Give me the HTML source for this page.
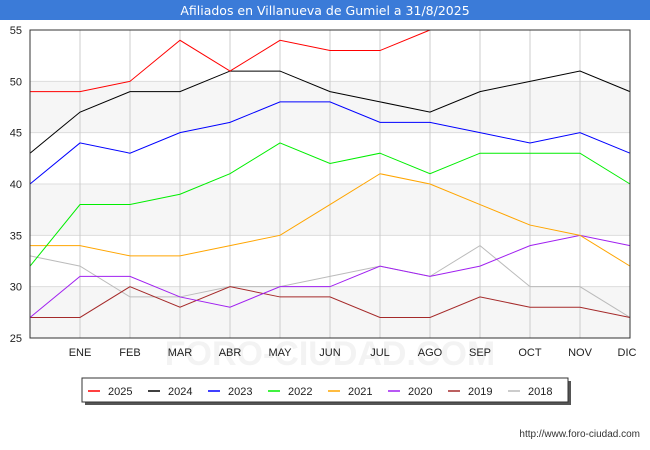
<!DOCTYPE html>
<html><head><meta charset="utf-8"><style>
body{margin:0;background:#fff;font-family:"Liberation Sans",sans-serif;}
#wrap{position:relative;width:650px;height:450px;overflow:hidden;}
</style></head><body>
<div id="wrap">
<svg id="chart" width="650" height="450" xmlns="http://www.w3.org/2000/svg">
<rect x="0" y="0" width="650" height="20" fill="#3b7bd8"/>
<text x="325" y="15" text-anchor="middle" fill="#fff" font-size="12.5" font-family="DejaVu Sans, sans-serif">Afiliados en Villanueva de Gumiel a 31/8/2025</text>
<g id="bands"></g><g id="grid"></g>
<text x="330" y="365" text-anchor="middle" fill="#f3f3f3" font-size="34" font-weight="bold" font-family="Liberation Sans, sans-serif">FORO-CIUDAD.COM</text>
<g id="series"></g><g id="axes"></g>
<rect x="85" y="381" width="486" height="24" fill="#555"/>
<rect x="82" y="378" width="486" height="24" fill="#fff" stroke="#333"/>
<g id="legend"></g>
<text x="640" y="437" text-anchor="end" font-size="10" fill="#333" font-family="Liberation Sans, sans-serif">http://www.foro-ciudad.com</text>
</svg></div>
<script>
const months=["","ENE","FEB","MAR","ABR","MAY","JUN","JUL","AGO","SEP","OCT","NOV","DIC"];
const yTicks=[25,30,35,40,45,50,55];
const years=["2025","2024","2023","2022","2021","2020","2019","2018"];
const colors=["#ff0000","#000000","#0000ff","#00ee00","#ffa500","#a020f0","#a52a2a","#bbbbbb"];
const s2025=[49,49,50,54,51,54,53,53,55];
const s2024=[43,47,49,49,51,51,49,48,47,49,50,51,49];
const s2023=[40,44,43,45,46,48,48,46,46,45,44,45,43];
const s2022=[32,38,38,39,41,44,42,43,41,43,43,43,40];
const s2021=[34,34,33,33,34,35,38,41,40,38,36,35,32];
const s2020=[27,31,31,29,28,30,30,32,31,32,34,35,34];
const s2019=[27,27,30,28,30,29,29,27,27,29,28,28,27];
const s2018=[33,32,29,29,30,30,31,32,31,34,30,30,27];
const allSeries=[s2025,s2024,s2023,s2022,s2021,s2020,s2019,s2018];
const NS="http://www.w3.org/2000/svg";
const X0=30,X1=630,Y0=338,Y1=30,YMIN=25,YMAX=55;
const xs=i=>X0+i*(X1-X0)/12;
const ys=v=>Y0-(v-YMIN)*(Y0-Y1)/(YMAX-YMIN);
function mk(t,a,p){const e=document.createElementNS(NS,t);for(const k in a)e.setAttribute(k,a[k]);p.appendChild(e);return e;}
const bands=document.getElementById('bands'),grid=document.getElementById('grid'),axes=document.getElementById('axes'),ser=document.getElementById('series'),leg=document.getElementById('legend');
for(let i=0;i<yTicks.length-1;i+=2){
 const r=mk('rect',{x:X0,y:ys(yTicks[i]+5),width:X1-X0,height:ys(yTicks[i])-ys(yTicks[i]+5),fill:'#f6f6f6'},bands);
 
 
}
yTicks.forEach(v=>{
 const l=mk('line',{x1:X0,x2:X1,y1:ys(v),y2:ys(v),stroke:'#ddd'},grid);
 
 
 const t=mk('text',{x:X0-8,y:ys(v)+4,'text-anchor':'end','font-size':11,fill:'#222'},axes);
 t.textContent=v;
 
 
});
months.forEach((m,i)=>{
 if(i>0){const l=mk('line',{x1:xs(i),x2:xs(i),y1:Y1,y2:Y0,stroke:'#ccc'},grid);
 
 }
 if(m){const t=mk('text',{x:xs(i)-(i==12?3:0),y:Y0+18,'text-anchor':'middle','font-size':11,fill:'#222'},axes);
 t.textContent=m;
 
 }
});
const fr=mk('rect',{x:X0,y:Y1,width:X1-X0,height:Y0-Y1,fill:'none',stroke:'#333'},axes);


for(let k=allSeries.length-1;k>=0;k--){
 const pts=allSeries[k].map((v,i)=>xs(i)+','+ys(v)).join(' ');
 const p=mk('polyline',{points:pts,fill:'none',stroke:colors[k],'stroke-width':1},ser);
 
 
}
years.forEach((y,k)=>{
 const x=88+k*60;
 const l=mk('line',{x1:x,x2:x+12,y1:391,y2:391,stroke:colors[k],'stroke-width':1.5},leg);
 
 
 const t=mk('text',{x:x+20,y:395,'font-size':11,fill:'#222'},leg);
 t.textContent=y;
 
 
});
</script></body></html>
